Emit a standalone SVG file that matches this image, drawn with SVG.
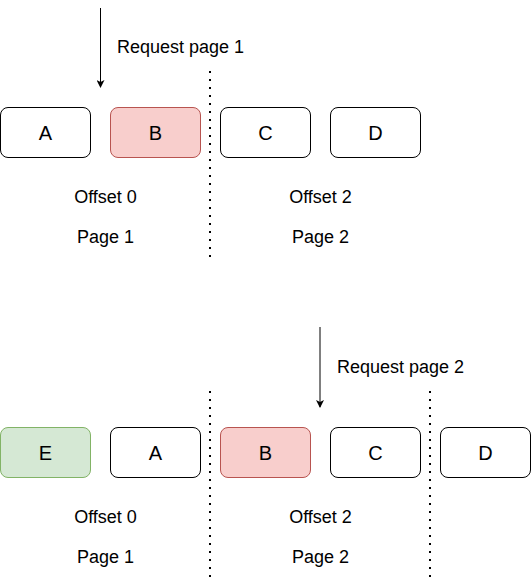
<svg xmlns="http://www.w3.org/2000/svg" width="531" height="580" viewBox="0 0 531 580">
<defs>
<style>
.box{fill:#ffffff;stroke:#000000;stroke-width:1}
.red{fill:#f8cecc;stroke:#b85450;stroke-width:1}
.green{fill:#d5e8d4;stroke:#82b366;stroke-width:1}
text{font-family:"Liberation Sans",Arial,sans-serif;font-size:20px;fill:#000000}
.c{text-anchor:middle}
.lbl{font-size:18px}
.dot{stroke:#000000;stroke-width:2;stroke-dasharray:2 6;fill:none}
.arr{stroke:#000000;stroke-width:1;fill:none}
</style>
<marker id="ah" viewBox="0 0 8 8" refX="7" refY="4" markerWidth="8" markerHeight="8" markerUnits="userSpaceOnUse" orient="auto">
<path d="M0,0 L8,4 L0,8 L2,4 Z" fill="#000000"/>
</marker>
</defs>
<g id="connectors">
<line class="arr" x1="100.5" y1="8" x2="100.5" y2="87" marker-end="url(#ah)"/>
<line class="arr" x1="320" y1="327" x2="320" y2="407" marker-end="url(#ah)"/>
<line class="dot" x1="210" y1="71" x2="210" y2="258"/>
<line class="dot" x1="210" y1="391" x2="210" y2="578"/>
<line class="dot" x1="430" y1="391" x2="430" y2="578"/>
</g>
<g id="label-req1"><text x="117" y="53" class="lbl">Request page 1</text></g>
<g id="label-req2"><text x="337" y="373" class="lbl">Request page 2</text></g>
<g id="top-A"><rect class="box" x="0.5" y="107.5" width="90" height="50" rx="7.5"/><text class="c" x="45.5" y="140">A</text></g>
<g id="top-B"><rect class="red" x="110.5" y="107.5" width="90" height="50" rx="7.5"/><text class="c" x="155.5" y="140">B</text></g>
<g id="top-C"><rect class="box" x="220.5" y="107.5" width="90" height="50" rx="7.5"/><text class="c" x="265.5" y="140">C</text></g>
<g id="top-D"><rect class="box" x="330.5" y="107.5" width="90" height="50" rx="7.5"/><text class="c" x="375.5" y="140">D</text></g>
<g id="top-labels">
<text class="c lbl" x="105.5" y="203">Offset 0</text>
<text class="c lbl" x="105.5" y="243">Page 1</text>
<text class="c lbl" x="320.5" y="203">Offset 2</text>
<text class="c lbl" x="320.5" y="243">Page 2</text>
</g>
<g id="bot-E"><rect class="green" x="0.5" y="427.5" width="90" height="50" rx="7.5"/><text class="c" x="45.5" y="460">E</text></g>
<g id="bot-A"><rect class="box" x="110.5" y="427.5" width="90" height="50" rx="7.5"/><text class="c" x="155.5" y="460">A</text></g>
<g id="bot-B"><rect class="red" x="220.5" y="427.5" width="90" height="50" rx="7.5"/><text class="c" x="265.5" y="460">B</text></g>
<g id="bot-C"><rect class="box" x="330.5" y="427.5" width="90" height="50" rx="7.5"/><text class="c" x="375.5" y="460">C</text></g>
<g id="bot-D"><rect class="box" x="440.5" y="427.5" width="90" height="50" rx="7.5"/><text class="c" x="485.5" y="460">D</text></g>
<g id="bot-labels">
<text class="c lbl" x="105.5" y="523">Offset 0</text>
<text class="c lbl" x="105.5" y="563">Page 1</text>
<text class="c lbl" x="320.5" y="523">Offset 2</text>
<text class="c lbl" x="320.5" y="563">Page 2</text>
</g>
</svg>
